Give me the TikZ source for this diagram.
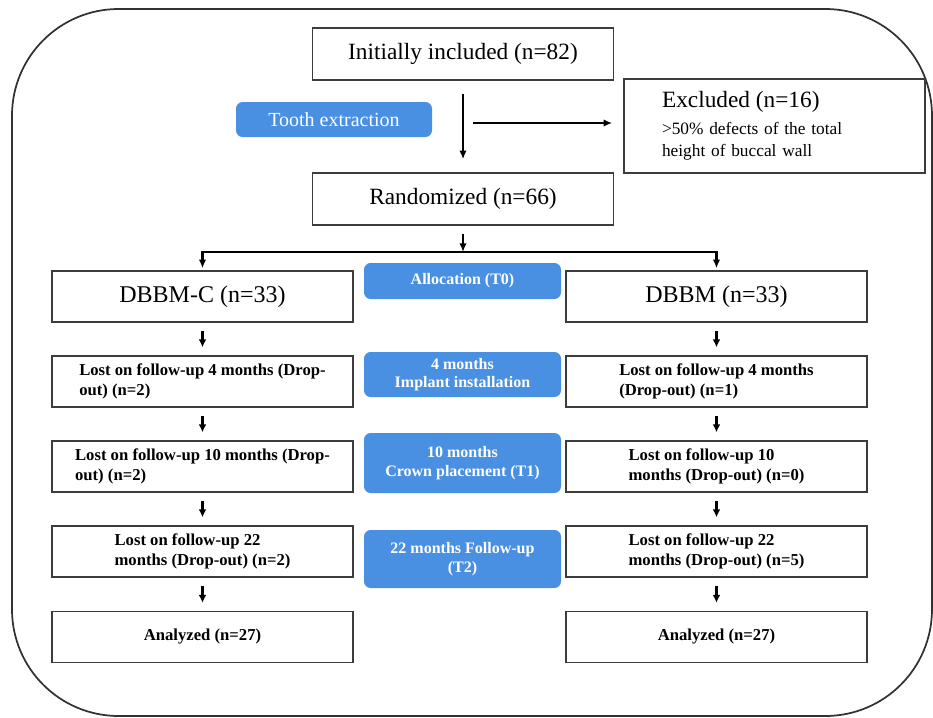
\documentclass[tikz,border=0pt]{standalone}
\usepackage{fontspec}
\setmainfont{Liberation Serif}
\usetikzlibrary{arrows.meta}

\tikzset{
  whitebox/.style={draw={rgb, 255:red, 60; green, 60; blue, 60}, line width=1.1pt, fill=white, minimum width=225.75pt, minimum height=38.25pt, inner sep=0pt, align=left},
  dropbox/.style={whitebox, font=\fontsize{12.5}{14.5}\selectfont\bfseries},
  bluebox/.style={fill={rgb, 255:red, 74; green, 144; blue, 226}, rounded corners=5pt, text=white, minimum width=147.75pt, inner sep=0pt, align=center, font=\fontsize{12}{14}\selectfont\bfseries},
  flowarr/.style={-{Latex[length=6.5pt,width=5.5pt]}, line width=1.5pt},
  droparr/.style={-{Latex[length=6pt,width=6pt]}, line width=1.8pt, shorten <=6.5pt, shorten >=6pt},
}

\begin{document}
\begin{tikzpicture}[x=0.75pt,y=0.75pt,yscale=-1,xscale=1]
\useasboundingbox (0,0) rectangle (933,718);

%Shape: Rounded Frame
\draw [color={rgb, 255:red, 50; green, 50; blue, 50}, line width=1.3pt, rounded corners=80pt] (12,9) rectangle (932,716);

% Text Node
\node [whitebox, align=center, font=\fontsize{17.5}{20}\selectfont, minimum height=39pt] (init) at (463,54) {Initially included (n=82)};
% Text Node
\node [bluebox, font=\fontsize{15}{17}\selectfont, minimum width=147pt, minimum height=26.25pt] (tooth) at (334,119.5) {Tooth extraction};
% Text Node
\node [whitebox, minimum height=70.5pt, inner xsep=28.5pt, text width=168.75pt, font=\fontsize{13}{16.5}\selectfont] (excl) at (774.5,126) {{\fontsize{17.5}{20}\selectfont Excluded (n=16)}\\[3.5pt]>50\% defects of the total\\height of buccal wall};
% Text Node
\node [whitebox, align=center, font=\fontsize{17.5}{20}\selectfont, minimum height=39pt] (rand) at (463,199) {Randomized (n=66)};

\coordinate (split) at (463,123);
\coordinate (fork) at (463,252);

%Straight Lines
\draw [flowarr, shorten <=9.75pt, shorten >=9.75pt] (init) -- (rand);
%Straight Lines
\draw [flowarr, line width=1.8pt, shorten <=7.5pt, shorten >=8.25pt] (split) -- (split -| excl.west);
%Straight Lines
\draw [flowarr, shorten <=6pt] (rand) -- (fork);

% Left arm
\node [whitebox, align=center, font=\fontsize{18}{20}\selectfont] (dbbmc) at (202.5,296.5) {DBBM-C (n=33)};
\node [dropbox] (lostLa) at (202.5,381.5) {Lost on follow-up 4 months (Drop-\\out) (n=2)};
\node [dropbox] (lostLb) at (202.5,466.5) {Lost on follow-up 10 months (Drop-\\out) (n=2)};
\node [dropbox] (lostLc) at (202.5,551.5) {Lost on follow-up 22\\months (Drop-out) (n=2)};
\node [dropbox, align=center] (anaL) at (202.5,637) {Analyzed (n=27)};

% Right arm
\node [whitebox, align=center, font=\fontsize{18}{20}\selectfont] (dbbm) at (716.5,296.5) {DBBM (n=33)};
\node [dropbox] (lostRa) at (716.5,381.5) {Lost on follow-up 4 months\\(Drop-out) (n=1)};
\node [dropbox] (lostRb) at (716.5,466.5) {Lost on follow-up 10\\months (Drop-out) (n=0)};
\node [dropbox] (lostRc) at (716.5,551.5) {Lost on follow-up 22\\months (Drop-out) (n=5)};
\node [dropbox, align=center] (anaR) at (716.5,637) {Analyzed (n=27)};

% Time points
\node [bluebox, minimum height=27pt] (alloc) at (462.5,281) {Allocation (T0)};
\node [bluebox, minimum height=33.75pt] (implant) at (462.5,374.5) {4 months\\Implant installation};
\node [bluebox, minimum height=45pt] (crown) at (462.5,463) {10 months\\Crown placement (T1)};
\node [bluebox, minimum height=43.5pt] (followup) at (462.5,559) {22 months Follow-up\\(T2)};

%Straight Lines
\draw [flowarr, line width=2.2pt, shorten >=1.5pt] (fork) -| (dbbmc);
\draw [flowarr, line width=2.2pt, shorten >=1.5pt] (fork) -| (dbbm);

%Straight Lines
\draw [droparr] (dbbmc) -- (lostLa);
\draw [droparr] (lostLa) -- (lostLb);
\draw [droparr] (lostLb) -- (lostLc);
\draw [droparr] (lostLc) -- (anaL);
\draw [droparr] (dbbm) -- (lostRa);
\draw [droparr] (lostRa) -- (lostRb);
\draw [droparr] (lostRb) -- (lostRc);
\draw [droparr] (lostRc) -- (anaR);

\end{tikzpicture}
\end{document}
